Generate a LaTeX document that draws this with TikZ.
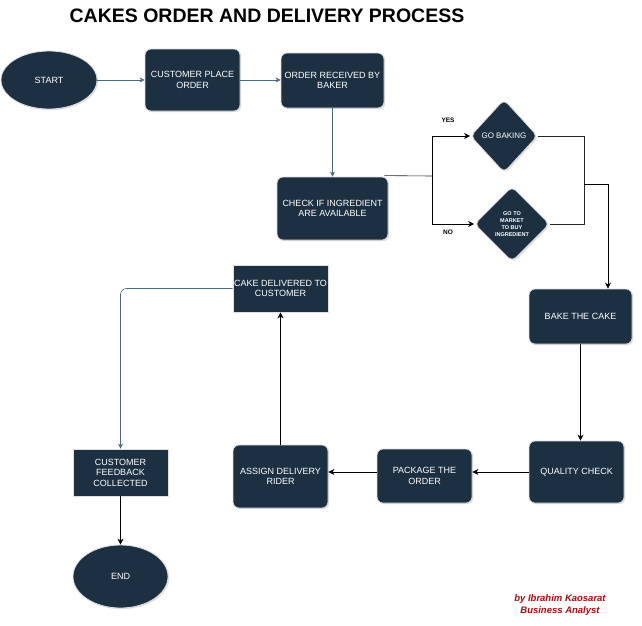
\documentclass[tikz,border=0pt]{standalone}
\usepackage{fontspec}
\setmainfont{Liberation Sans}
\usetikzlibrary{shapes.geometric,arrows.meta,shadows,calc}
\definecolor{navy}{HTML}{1C3042}
\definecolor{steel}{HTML}{4D6782}
\definecolor{credit}{HTML}{A50D10}
\begin{document}
\begin{tikzpicture}[x=1pt,y=-1pt,
  base/.style={fill=navy,draw=gray!25,line width=0.8pt,text=white,align=center,inner sep=0pt,
    font=\fontsize{9}{10.5}\selectfont,
    drop shadow={shadow xshift=1.2pt,shadow yshift=-1.2pt,opacity=0.25,fill=gray}},
  rbox/.style={base,rectangle,rounded corners=6pt},
  sbox/.style={base,rectangle},
  oval/.style={base,ellipse},
  dia/.style={base,diamond,rounded corners=5pt},
  arr/.style={draw=black,line width=0.6pt,-{Stealth[length=6pt,width=6pt]}},
  ln/.style={draw=black!85,line width=0.6pt},
  arrb/.style={draw=steel,line width=0.6pt,-{Stealth[length=5pt,width=5pt]}},
  lbl/.style={font=\fontsize{6.5}{8}\selectfont\bfseries,text=black,inner sep=0pt}]
\useasboundingbox (0,0) rectangle (642,625);
\fill[white] (0,0) rectangle (642,625);

\node[font=\fontsize{19.5}{22}\selectfont\bfseries,inner sep=0pt] (title) at (267,16) {CAKES ORDER AND DELIVERY PROCESS};

\node[oval,minimum width=96,minimum height=58] (start) at (49,80) {START};
\node[rbox,minimum width=95,minimum height=62] (cpo) at (192.5,80) {CUSTOMER PLACE\\ORDER};
\node[rbox,minimum width=103,minimum height=55] (orb) at (332.5,80.5) {ORDER RECEIVED BY\\BAKER};
\node[rbox,minimum width=111,minimum height=63] (chk) at (332.5,208.5) {CHECK IF INGREDIENT\\ARE AVAILABLE};
\node[dia,minimum width=67,minimum height=73,font=\fontsize{8}{9}\selectfont] (gob) at (504,136) {GO BAKING};
\node[dia,minimum width=75,minimum height=75,font=\fontsize{5.5}{7}\selectfont\bfseries] (gom) at (512,224) {GO TO\\MARKET\\TO BUY\\INGREDIENT};
\node[rbox,minimum width=103,minimum height=55] (bake) at (580.5,316.5) {BAKE THE CAKE};
\node[rbox,minimum width=95,minimum height=62] (qc) at (576.5,472) {QUALITY CHECK};
\node[rbox,minimum width=95,minimum height=54] (pkg) at (424.5,476) {PACKAGE THE\\ORDER};
\node[rbox,minimum width=95,minimum height=63] (asg) at (280.5,476.5) {ASSIGN DELIVERY\\RIDER};
\node[sbox,minimum width=95,minimum height=47] (cdc) at (280.5,288.5) {CAKE DELIVERED TO\\CUSTOMER};
\node[sbox,minimum width=95,minimum height=47] (fb) at (120.5,472.5) {CUSTOMER\\FEEDBACK\\COLLECTED};
\node[oval,minimum width=95,minimum height=63] (end) at (120.5,576.5) {END};

\node[lbl] (yes) at (448,120) {YES};
\node[lbl] (no) at (448,232) {NO};

\node[font=\fontsize{9.5}{12}\selectfont\bfseries\itshape,text=credit,align=center,inner sep=0pt] (by) at (560,605) {by Ibrahim Kaosarat\\Business Analyst};

% connectors
\draw[arrb] (start.east) -- (cpo.west);
\draw[arrb] (cpo.east) -- (orb.west |- cpo.east);
\draw[arrb] (orb.south) -- (chk.north);

\coordinate (j1) at (432,176);
\draw[ln] (chk.north east) ++(-4,-1) coordinate (c0) -- (j1);
\draw[arr] (j1) |- (gob.west);
\draw[arr] (j1) |- (gom.west);

\coordinate (j2) at (584,184);
\coordinate (j3) at (608,184);
\draw[ln] (gob.east) -| (j2);
\draw[ln] (gom.east) -| (j2);
\draw[arr] (j2) -- (j3) -- (j3 |- bake.north);

\draw[arr] (bake.south) -- (bake.south |- qc.north);
\draw[arr] (qc.west) -- (qc.west -| pkg.east);
\draw[arr] (pkg.west |- qc.west) -- (asg.east |- qc.west);
\draw[arr] (asg.north) -- (cdc.south);
\draw[arrb,rounded corners=6pt] (cdc.west) -| (fb.north);
\draw[arr] (fb.south) -- (end.north);
\end{tikzpicture}
\end{document}
